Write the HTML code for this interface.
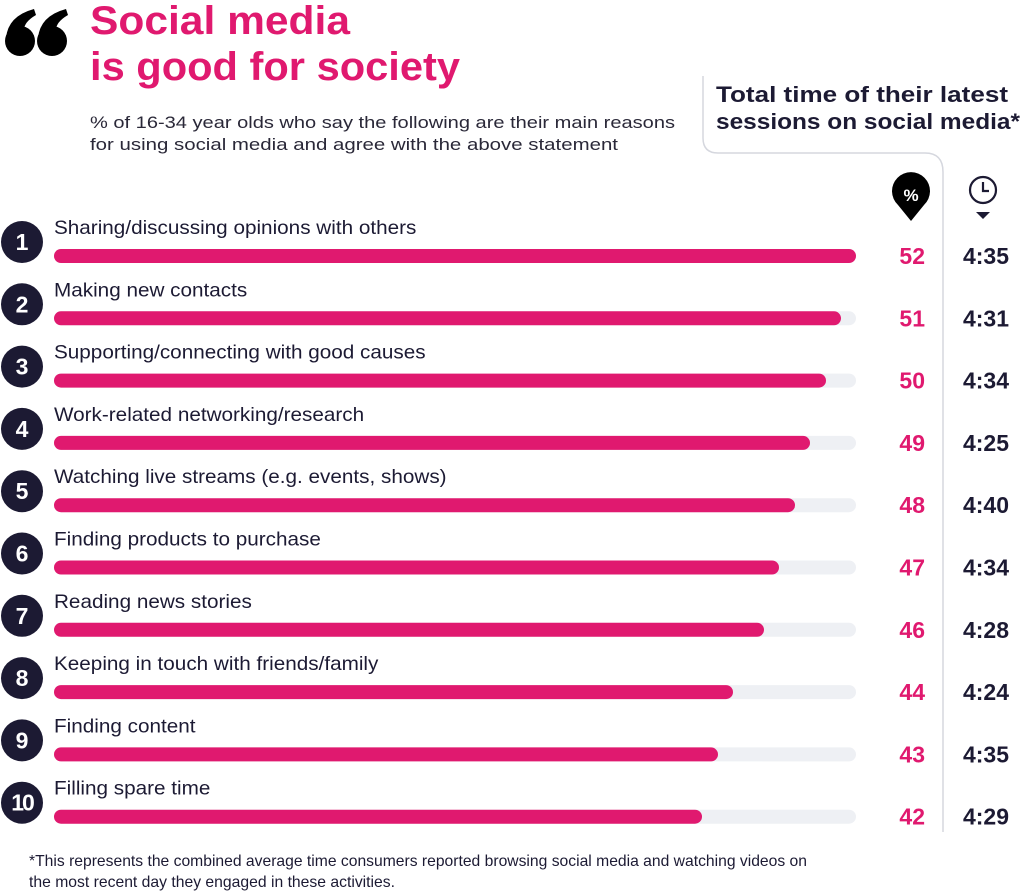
<!DOCTYPE html>
<html><head><meta charset="utf-8"><style>
html,body{margin:0;padding:0;background:#fff;}
svg{display:block;font-family:"Liberation Sans",sans-serif;}
.lbl{font-size:19px;fill:#1c1a33;}
.pct{font-size:23px;font-weight:bold;fill:#e0196f;text-anchor:end;}
.tm{font-size:23px;font-weight:bold;fill:#1c1a33;text-anchor:middle;}
.num{font-size:23px;font-weight:bold;fill:#fff;text-anchor:middle;}
</style></head><body>
<svg width="1024" height="893" viewBox="0 0 1024 893">
<g fill="#000">
<circle cx="20" cy="41" r="15"/><path d="M6 38 Q8 16 34 9 L36 15 Q24 22 24 30 Z"/>
<circle cx="52" cy="41" r="15"/><path d="M38 38 Q40 16 66 9 L68 15 Q56 22 56 30 Z"/>
</g>
<text x="90" y="34" font-size="40" font-weight="bold" fill="#e0196f" textLength="260" lengthAdjust="spacingAndGlyphs">Social media</text>
<text x="90" y="80" font-size="40" font-weight="bold" fill="#e0196f" textLength="370" lengthAdjust="spacingAndGlyphs">is good for society</text>
<text x="90" y="128" font-size="17" fill="#2a2838" textLength="585" lengthAdjust="spacingAndGlyphs">% of 16-34 year olds who say the following are their main reasons</text>
<text x="90" y="150" font-size="17" fill="#2a2838" textLength="528" lengthAdjust="spacingAndGlyphs">for using social media and agree with the above statement</text>
<text x="716" y="102" font-size="22" font-weight="bold" fill="#1c1a33" textLength="292" lengthAdjust="spacingAndGlyphs">Total time of their latest</text>
<text x="716" y="129" font-size="22" font-weight="bold" fill="#1c1a33" textLength="304" lengthAdjust="spacingAndGlyphs">sessions on social media*</text>
<path d="M703 76 V138 Q703 153 718 153 H925 Q943 153 943 172 V832" fill="none" stroke="#d5d7de" stroke-width="1.5"/>
<path d="M911 221 L898 205 A19 19 0 1 1 924 205 Z" fill="#000"/>
<text x="911" y="201" font-size="17" font-weight="bold" fill="#fff" text-anchor="middle">%</text>
<circle cx="983" cy="190" r="13" fill="none" stroke="#1c1a33" stroke-width="2.2"/>
<path d="M983 182 V191 H989" fill="none" stroke="#1c1a33" stroke-width="2.2"/>
<path d="M976 212 H990 L983 219 Z" fill="#1c1a33"/>
<g>
<g transform="translate(0,0)"><circle cx="22" cy="242" r="21" fill="#1c1a33"/><text class="num" x="22" y="250">1</text><text class="lbl" x="54" y="234" transform="translate(54,0) scale(1.09,1) translate(-54,0)">Sharing/discussing opinions with others</text><rect x="54" y="249" width="802" height="14" rx="7" fill="#eef0f4"/><rect x="54" y="249" width="802" height="14" rx="7" fill="#e0196f"/><text class="pct" x="925" y="264">52</text><text class="tm" x="986" y="264">4:35</text></g>
<g transform="translate(0,62.3)"><circle cx="22" cy="242" r="21" fill="#1c1a33"/><text class="num" x="22" y="250">2</text><text class="lbl" x="54" y="234" transform="translate(54,0) scale(1.09,1) translate(-54,0)">Making new contacts</text><rect x="54" y="249" width="802" height="14" rx="7" fill="#eef0f4"/><rect x="54" y="249" width="787" height="14" rx="7" fill="#e0196f"/><text class="pct" x="925" y="264">51</text><text class="tm" x="986" y="264">4:31</text></g>
<g transform="translate(0,124.6)"><circle cx="22" cy="242" r="21" fill="#1c1a33"/><text class="num" x="22" y="250">3</text><text class="lbl" x="54" y="234" transform="translate(54,0) scale(1.09,1) translate(-54,0)">Supporting/connecting with good causes</text><rect x="54" y="249" width="802" height="14" rx="7" fill="#eef0f4"/><rect x="54" y="249" width="772" height="14" rx="7" fill="#e0196f"/><text class="pct" x="925" y="264">50</text><text class="tm" x="986" y="264">4:34</text></g>
<g transform="translate(0,186.9)"><circle cx="22" cy="242" r="21" fill="#1c1a33"/><text class="num" x="22" y="250">4</text><text class="lbl" x="54" y="234" transform="translate(54,0) scale(1.09,1) translate(-54,0)">Work-related networking/research</text><rect x="54" y="249" width="802" height="14" rx="7" fill="#eef0f4"/><rect x="54" y="249" width="756" height="14" rx="7" fill="#e0196f"/><text class="pct" x="925" y="264">49</text><text class="tm" x="986" y="264">4:25</text></g>
<g transform="translate(0,249.2)"><circle cx="22" cy="242" r="21" fill="#1c1a33"/><text class="num" x="22" y="250">5</text><text class="lbl" x="54" y="234" transform="translate(54,0) scale(1.09,1) translate(-54,0)">Watching live streams (e.g. events, shows)</text><rect x="54" y="249" width="802" height="14" rx="7" fill="#eef0f4"/><rect x="54" y="249" width="741" height="14" rx="7" fill="#e0196f"/><text class="pct" x="925" y="264">48</text><text class="tm" x="986" y="264">4:40</text></g>
<g transform="translate(0,311.5)"><circle cx="22" cy="242" r="21" fill="#1c1a33"/><text class="num" x="22" y="250">6</text><text class="lbl" x="54" y="234" transform="translate(54,0) scale(1.09,1) translate(-54,0)">Finding products to purchase</text><rect x="54" y="249" width="802" height="14" rx="7" fill="#eef0f4"/><rect x="54" y="249" width="725" height="14" rx="7" fill="#e0196f"/><text class="pct" x="925" y="264">47</text><text class="tm" x="986" y="264">4:34</text></g>
<g transform="translate(0,373.8)"><circle cx="22" cy="242" r="21" fill="#1c1a33"/><text class="num" x="22" y="250">7</text><text class="lbl" x="54" y="234" transform="translate(54,0) scale(1.09,1) translate(-54,0)">Reading news stories</text><rect x="54" y="249" width="802" height="14" rx="7" fill="#eef0f4"/><rect x="54" y="249" width="710" height="14" rx="7" fill="#e0196f"/><text class="pct" x="925" y="264">46</text><text class="tm" x="986" y="264">4:28</text></g>
<g transform="translate(0,436.1)"><circle cx="22" cy="242" r="21" fill="#1c1a33"/><text class="num" x="22" y="250">8</text><text class="lbl" x="54" y="234" transform="translate(54,0) scale(1.09,1) translate(-54,0)">Keeping in touch with friends/family</text><rect x="54" y="249" width="802" height="14" rx="7" fill="#eef0f4"/><rect x="54" y="249" width="679" height="14" rx="7" fill="#e0196f"/><text class="pct" x="925" y="264">44</text><text class="tm" x="986" y="264">4:24</text></g>
<g transform="translate(0,498.4)"><circle cx="22" cy="242" r="21" fill="#1c1a33"/><text class="num" x="22" y="250">9</text><text class="lbl" x="54" y="234" transform="translate(54,0) scale(1.09,1) translate(-54,0)">Finding content</text><rect x="54" y="249" width="802" height="14" rx="7" fill="#eef0f4"/><rect x="54" y="249" width="664" height="14" rx="7" fill="#e0196f"/><text class="pct" x="925" y="264">43</text><text class="tm" x="986" y="264">4:35</text></g>
<g transform="translate(0,560.7)"><circle cx="22" cy="242" r="21" fill="#1c1a33"/><text class="num" x="22" y="250" letter-spacing="-2">10</text><text class="lbl" x="54" y="234" transform="translate(54,0) scale(1.09,1) translate(-54,0)">Filling spare time</text><rect x="54" y="249" width="802" height="14" rx="7" fill="#eef0f4"/><rect x="54" y="249" width="648" height="14" rx="7" fill="#e0196f"/><text class="pct" x="925" y="264">42</text><text class="tm" x="986" y="264">4:29</text></g>
</g>
<text x="29" y="866" font-size="16" fill="#1c1a33" textLength="778" lengthAdjust="spacingAndGlyphs">*This represents the combined average time consumers reported browsing social media and watching videos on</text>
<text x="29" y="887" font-size="16" fill="#1c1a33" textLength="366" lengthAdjust="spacingAndGlyphs">the most recent day they engaged in these activities.</text>
</svg>
</body></html>
